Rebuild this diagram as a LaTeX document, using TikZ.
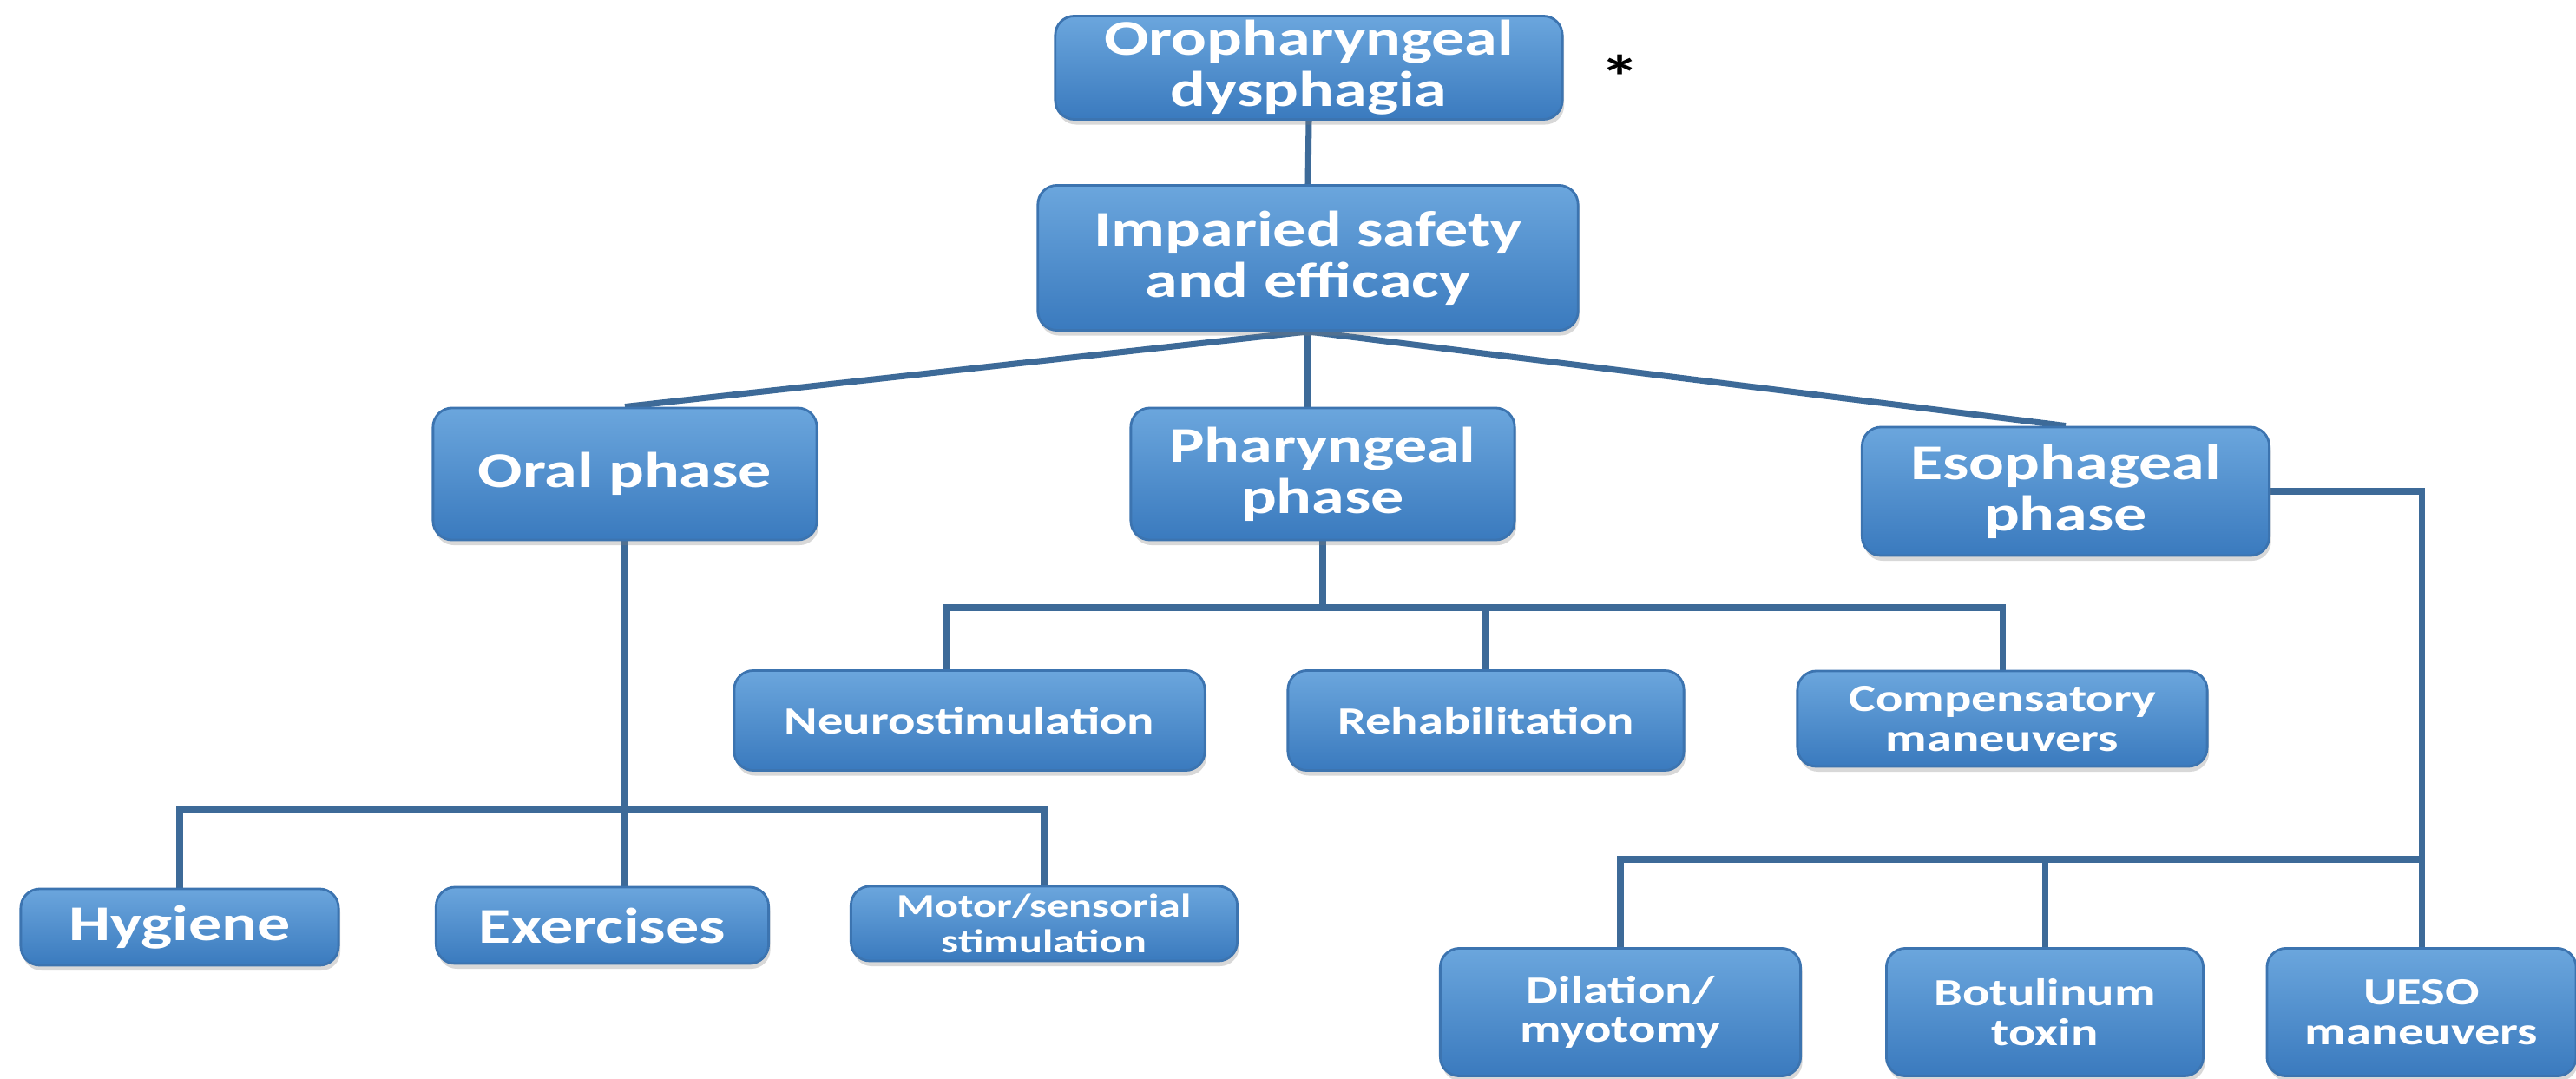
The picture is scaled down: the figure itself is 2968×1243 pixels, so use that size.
\documentclass[tikz,border=0pt]{standalone}
\usepackage{fontspec}
\setmainfont{Carlito}[FakeStretch=1.32]
\usetikzlibrary{shadows,backgrounds}
\definecolor{boxtop}{HTML}{6BA6DD}
\definecolor{boxbot}{HTML}{3A7ABE}
\definecolor{boxedge}{HTML}{3C74B0}
\definecolor{linkc}{HTML}{3D6A98}
\tikzset{
 box/.style={rounded corners=0.22cm, top color=boxtop, bottom color=boxbot, draw=boxedge, line width=0.8pt, text=white, align=center, inner sep=0pt, drop shadow={opacity=0.3,shadow xshift=0.02cm,shadow yshift=-0.06cm}},
 big/.style={box, font=\bfseries\fontsize{16.4}{16.8}\selectfont},
 mid/.style={box, font=\bfseries\fontsize{12.6}{13}\selectfont},
 sml/.style={box, font=\bfseries\fontsize{10.8}{11.5}\selectfont},
 link/.style={draw=linkc, line width=2pt},
 sz/.style 2 args={minimum width=#1, minimum height=#2}
}
\begin{document}
\begin{tikzpicture}[x=0.01cm,y=-0.01cm]
\useasboundingbox (0,0) rectangle (2968,1243);
\node[big, sz={5.84cm}{1.19cm}] (oro) at (1508,78) {Oropharyngeal\\dysphagia};
\node[big, sz={6.22cm}{1.67cm}] (imp) at (1507,297) {Imparied safety\\and efficacy};
\node[big, sz={4.42cm}{1.52cm}] (oral) at (720,546) {Oral phase};
\node[big, sz={4.42cm}{1.52cm}] (phar) at (1524,546) {Pharyngeal\\phase};
\node[big, sz={4.69cm}{1.48cm}] (eso) at (2380,566) {Esophageal\\phase};
\node[mid, sz={5.42cm}{1.15cm}] (neuro) at (1117,830) {Neurostimulation};
\node[mid, sz={4.56cm}{1.15cm}] (rehab) at (1712,830) {Rehabilitation};
\node[mid, sz={4.72cm}{1.10cm}] (comp) at (2307,828) {Compensatory\\maneuvers};
\node[big, sz={3.66cm}{0.88cm}] (hyg) at (207,1068) {Hygiene};
\node[big, sz={3.83cm}{0.88cm}] (exer) at (694,1066) {Exercises};
\node[sml, sz={4.45cm}{0.86cm}] (motor) at (1203,1064) {Motor/sensorial\\stimulation};
\node[mid, sz={4.15cm}{1.47cm}] (dil) at (1867,1166) {Dilation/\\myotomy};
\node[mid, sz={3.65cm}{1.47cm}] (bot) at (2356,1166) {Botulinum\\toxin};
\node[mid, sz={3.56cm}{1.47cm}] (ueso) at (2790,1166) {UESO\\maneuvers};
\node[anchor=north, inner sep=0pt, font=\bfseries\fontsize{20}{20}\selectfont] (ast) at (1867,62) {*};
\coordinate (pb) at (1524,700);
\coordinate (ob) at (718,932);
\coordinate (eb) at (2790,990);
\begin{scope}[on background layer]
\fill[white] (0,0) rectangle (2968,1243);
\draw[link] (oro.south) -- (imp.north);
\draw[link] (imp.south) -- (oral.north);
\draw[link] (imp.south) -- (imp.south |- phar.north);
\draw[link] (imp.south) -- (eso.north);
\draw[link] (phar.south) -- (pb);
\draw[link] ([xshift=-0.26cm]neuro.north) |- (pb) -| (comp.north);
\draw[link] (rehab.north) -- (rehab.north |- pb);
\draw[link] (oral.south) -- (oral.south |- exer.north);
\draw[link] (hyg.north) |- (ob) -| (motor.north);
\draw[link] (eso.east) -| (ueso.north);
\draw[link] (dil.north) |- (eb);
\draw[link] (bot.north) -- (bot.north |- eb);
\end{scope}
\end{tikzpicture}
\end{document}
